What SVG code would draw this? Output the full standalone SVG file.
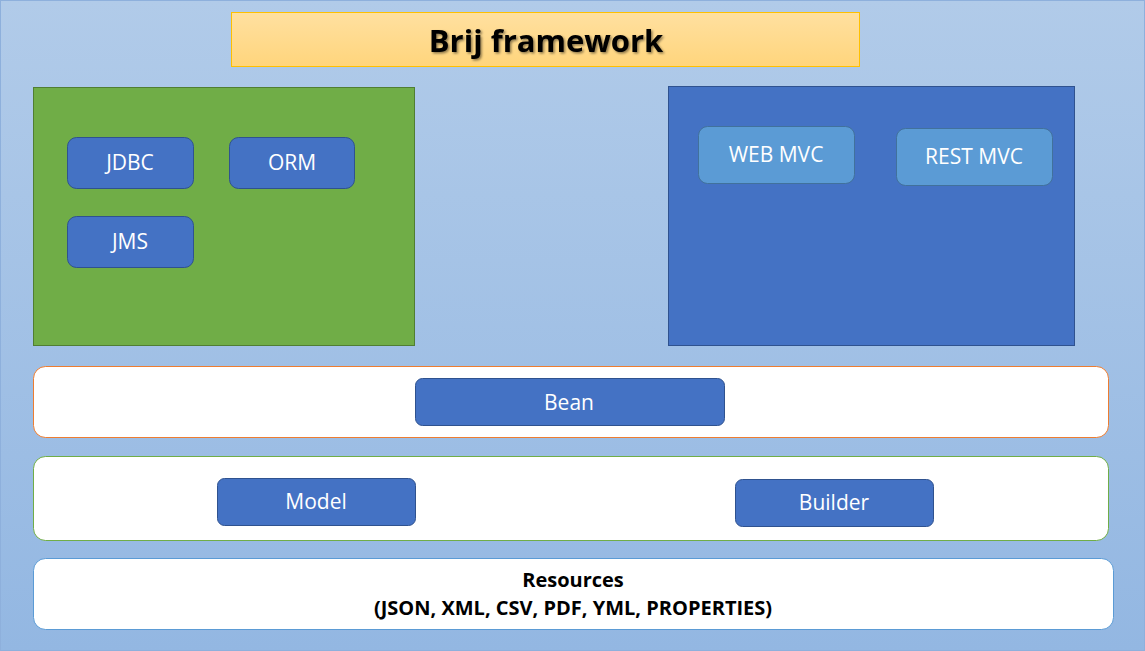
<svg xmlns="http://www.w3.org/2000/svg" width="1145" height="651" viewBox="0 0 1145 651">
<defs>
<linearGradient id="bg" x1="0" y1="0" x2="0" y2="1"><stop offset="0" stop-color="#b1cbe9"/><stop offset="1" stop-color="#93b7e2"/></linearGradient>
<linearGradient id="tg" x1="0" y1="0" x2="0" y2="1"><stop offset="0" stop-color="#ffe0a0"/><stop offset="1" stop-color="#ffd57c"/></linearGradient>
<filter id="sh" x="-10%" y="-30%" width="120%" height="160%"><feDropShadow dx="1.5" dy="1.5" stdDeviation="1" flood-color="#000" flood-opacity="0.45"/></filter>
</defs>
<style>
.t{font-family:"Open Sans","Noto Sans","Liberation Sans",sans-serif;}
.w{fill:#fff;font-size:21px;text-anchor:middle;dominant-baseline:central;}
.b{fill:#4472c4;stroke:#2f528f;stroke-width:1;}
.lb{fill:#5b9bd5;stroke:#41719c;stroke-width:1;}
.row{fill:#fff;stroke-width:1;}
.k{fill:#000;font-size:20px;font-weight:bold;text-anchor:middle;dominant-baseline:central;}
</style>
<rect x="0" y="0" width="1145" height="651" fill="url(#bg)"/>
<rect x="0.5" y="0.5" width="1144" height="650" fill="none" stroke="#8eb0dc"/>

<g id="title">
<rect x="231.5" y="12.5" width="628" height="54" fill="url(#tg)" stroke="#ffc000"/>
<text class="t" x="546" y="40" font-size="31" font-weight="bold" text-anchor="middle" dominant-baseline="central" fill="#000" filter="url(#sh)">Brij framework</text>
</g>

<g id="data-group">
<rect x="33.5" y="87.5" width="381" height="258" fill="#70ad47" stroke="#507e32"/>
</g>
<g id="jdbc"><rect class="b" x="67.5" y="137.5" width="126" height="51" rx="9"/><text class="t w" x="130" y="162">JDBC</text></g>
<g id="orm"><rect class="b" x="229.5" y="137.5" width="125" height="51" rx="9"/><text class="t w" x="292" y="162">ORM</text></g>
<g id="jms"><rect class="b" x="67.5" y="216.5" width="126" height="51" rx="9"/><text class="t w" x="130" y="241">JMS</text></g>

<g id="web-group">
<rect x="668.5" y="86.5" width="406" height="259" fill="#4472c4" stroke="#2f528f"/>
</g>
<g id="webmvc"><rect class="lb" x="698.5" y="126.5" width="156" height="57" rx="9"/><text class="t w" x="776" y="154">WEB MVC</text></g>
<g id="restmvc"><rect class="lb" x="896.5" y="128.5" width="156" height="57" rx="9"/><text class="t w" x="974" y="156">REST MVC</text></g>

<g id="bean-row"><rect class="row" x="33.5" y="366.5" width="1075" height="71" rx="12" stroke="#ed7d31"/></g>
<g id="bean"><rect class="b" x="415.5" y="378.5" width="309" height="47" rx="7"/><text class="t w" x="569" y="402">Bean</text></g>

<g id="model-row"><rect class="row" x="33.5" y="456.5" width="1075" height="84" rx="12" stroke="#70ad47"/></g>
<g id="model"><rect class="b" x="217.5" y="478.5" width="198" height="47" rx="7"/><text class="t w" x="316" y="501">Model</text></g>
<g id="builder"><rect class="b" x="735.5" y="479.5" width="198" height="47" rx="7"/><text class="t w" x="834" y="502">Builder</text></g>

<g id="resources"><rect class="row" x="33.5" y="558.5" width="1080" height="71" rx="12" stroke="#5b9bd5"/>
<text class="t k" x="573" y="579">Resources</text>
<text class="t k" x="573" y="607">(JSON, XML, CSV, PDF, YML, PROPERTIES)</text>
</g>
<g id="connectors"></g>
</svg>
